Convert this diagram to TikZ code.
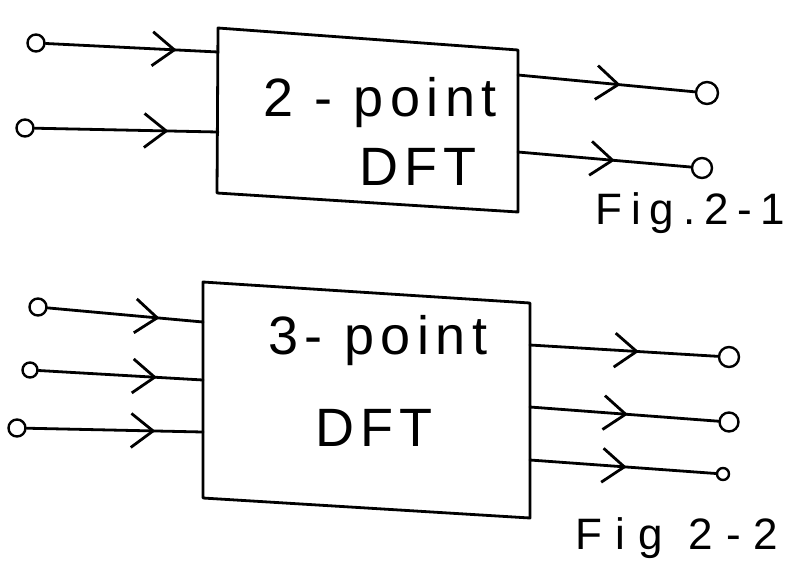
\documentclass[tikz,border=0pt]{standalone}
\usepackage{fontspec}
\setmainfont{Liberation Sans}
\usetikzlibrary{arrows.meta,decorations.markings}
\tikzset{
  ink/.style={line width=2.8pt, line cap=round, line join=round},
  wire/.style={ink, decoration={markings, mark=at position #1 with {\arrow[line width=2.8pt]{Straight Barb[length=22pt,width=34pt]}}}, postaction={decorate}},
  port/.style={circle, draw, line width=2.4pt, inner sep=0pt, minimum size=#1},
  boxtext/.style={anchor=base, font=\fontsize{54}{58}\selectfont\addfontfeature{LetterSpace=12}},
  captext/.style={anchor=base west, font=\fontsize{44}{48}\selectfont\addfontfeature{LetterSpace=#1}}
}
\begin{document}
\begin{tikzpicture}[x=1pt,y=-1pt]
\useasboundingbox (0,0) rectangle (797,582);
% ---------- Fig 2-1 ----------
\coordinate (anw) at (218,28);
\coordinate (ane) at (518,50);
\coordinate (ase) at (518,212);
\coordinate (asw) at (217,193);
\draw[ink] (anw) -- (ane) -- (ase) -- (asw) -- cycle;
\node[boxtext] (a2pt) at (380,116) {2 - point};
\node[boxtext] (adft) at (418,185) {DFT};
\coordinate (ap1) at (218,52);
\coordinate (ap2) at (218,132);
\coordinate (aq1) at (518,75);
\coordinate (aq2) at (518,152);
\node[port=17pt] (ai1) at (36,43) {};
\node[port=17pt] (ai2) at (25,128) {};
\node[port=22pt] (ao1) at (707,93) {};
\node[port=20pt] (ao2) at (702,168) {};
\draw[wire=0.76] (ai1) -- (ap1);
\draw[wire=0.73] (ai2) -- (ap2);
\draw[wire=0.58] (aq1) -- (ao1);
\draw[wire=0.56] (aq2) -- (ao2);
\node[captext=20] (acap) at (592,224) {Fig.2-1};
% ---------- Fig 2-2 ----------
\coordinate (bnw) at (203,282);
\coordinate (bne) at (530,303);
\coordinate (bse) at (530,518);
\coordinate (bsw) at (203,498);
\draw[ink] (bnw) -- (bne) -- (bse) -- (bsw) -- cycle;
\node[boxtext] (b3pt) at (378,354) {3- point};
\node[boxtext] (bdft) at (374,446) {DFT};
\coordinate (bp1) at (203,322);
\coordinate (bp2) at (203,380);
\coordinate (bp3) at (203,432);
\coordinate (bq1) at (530,345);
\coordinate (bq2) at (530,407);
\coordinate (bq3) at (530,460);
\node[port=17pt] (bi1) at (38,307) {};
\node[port=15pt] (bi2) at (30,370) {};
\node[port=17pt] (bi3) at (17,428) {};
\node[port=20pt] (bo1) at (729,357) {};
\node[port=19pt] (bo2) at (729,422) {};
\node[port=12pt] (bo3) at (723,474) {};
\draw[wire=0.72] (bi1) -- (bp1);
\draw[wire=0.72] (bi2) -- (bp2);
\draw[wire=0.73] (bi3) -- (bp3);
\draw[wire=0.58] (bq1) -- (bo1);
\draw[wire=0.52] (bq2) -- (bo2);
\draw[wire=0.52] (bq3) -- (bo3);
\node[captext=30] (bcap) at (572,549) {Fig 2-2};
\end{tikzpicture}
\end{document}
